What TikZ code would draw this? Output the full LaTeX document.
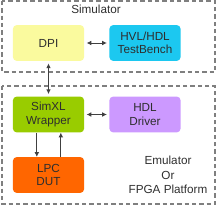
\documentclass[tikz,border=0pt]{standalone}
\usepackage{fontspec}
\setmainfont{Liberation Sans}
\usepackage{tikz}
\usetikzlibrary{arrows.meta}

\definecolor{dpiyellow}{HTML}{FAFA9E}
\definecolor{tbcyan}{HTML}{1CC8F0}
\definecolor{wrapgreen}{HTML}{99CC00}
\definecolor{drvpurple}{HTML}{CC99FF}
\definecolor{dutorange}{HTML}{FF6600}
\definecolor{framegray}{HTML}{7F7F7F}
\definecolor{txtgray}{HTML}{2E2E2E}

\tikzset{
  blockbox/.style={rounded corners=3pt, minimum width=2.13cm, minimum height=1.07cm,
    align=center, text=txtgray, font=\fontsize{10}{11.5}\selectfont},
  frame/.style={draw=framegray, line width=1.3pt, dash pattern=on 0.13cm off 0.09cm},
  link/.style={line width=0.8pt, draw=black!75, {Latex[length=4pt,width=4pt]}-{Latex[length=4pt,width=4pt]}},
  oneway/.style={line width=0.8pt, draw=black!75, -{Latex[length=4pt,width=4pt]}}
}

\begin{document}
\begin{tikzpicture}[x=0.03cm, y=-0.03cm]
  \useasboundingbox (0,0) rectangle (218,206);

  % outer frames
  \draw[frame] (2,1) rectangle (215,72);
  \draw[frame] (2,86) rectangle (215,204);
  \node[text=txtgray, font=\fontsize{10}{11.5}\selectfont] (simlbl) at (96,9) {Simulator};
  \node[text=txtgray, font=\fontsize{10}{11.5}\selectfont, align=center] (emulbl) at (168,175)
    {Emulator\\[1pt]Or\\[1pt]FPGA Platform};

  % blocks
  \node[blockbox, fill=dpiyellow] (dpi) at (48.5,43) {DPI};
  \node[blockbox, fill=tbcyan] (tb) at (145,43) {HVL/HDL\\TestBench};
  \node[blockbox, fill=wrapgreen] (wrap) at (48.5,114.5) {SimXL\\Wrapper};
  \node[blockbox, fill=drvpurple] (drv) at (145,114.5) {HDL\\Driver};
  \node[blockbox, fill=dutorange] (dut) at (48.5,175) {LPC\\DUT};

  % connections
  \draw[link, shorten <=2pt, shorten >=2pt] (dpi.east) -- (tb.west);
  \draw[link, shorten <=2pt, shorten >=2pt] (dpi.south) -- (wrap.north);
  \draw[link, shorten <=2pt, shorten >=2pt] (wrap.east) -- (drv.west);
  \draw[oneway] ([xshift=-0.35cm]wrap.south) -- ([xshift=-0.35cm]dut.north);
  \draw[oneway] ([xshift=0.37cm]dut.north) -- ([xshift=0.37cm]wrap.south);
\end{tikzpicture}
\end{document}
